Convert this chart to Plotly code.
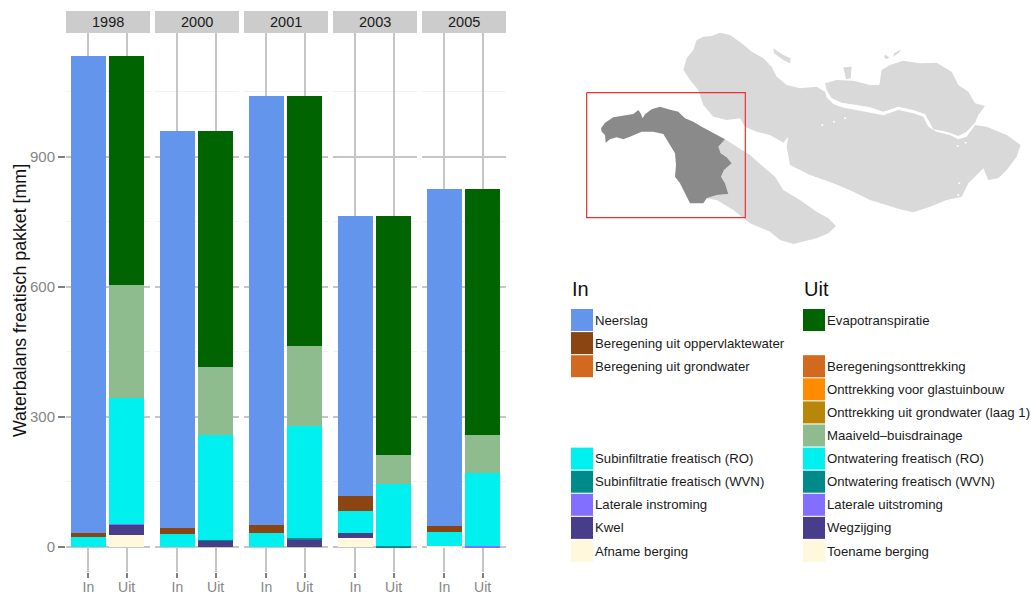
import plotly.graph_objects as go

W, H = 1031, 592

years = ["1998", "2000", "2001", "2003", "2005"]
directions = ["In", "Uit"]

# stack thickness per year [mm], bottom of stack first
afname_berging = [0, 0, 0, 21, 3]
kwel = [0, 0, 0, 11, 0]
subinf_ro = [23, 30, 32, 51, 32]
beregening_opp = [9, 14, 19, 35, 13]
neerslag = [1100, 915, 988, 645, 777]

toename_berging = [28, 0, 0, 0, 0]
wegzijging = [23, 15, 18, 0, 0]
laterale_uit = [2, 0, 0, 0, 1.5]
ontwatering_wvn = [0, 1.5, 3, 1.5, 0]
ontwatering_ro = [290, 241.5, 258, 143.5, 168.5]
maaiveld = [261, 157, 184, 67, 88]
evapotranspiratie = [528, 544, 576, 551, 567]

in_stack = [
    ("Afname berging", afname_berging, "#FFF8DC"),
    ("Kwel", kwel, "#483D8B"),
    ("Subinfiltratie freatisch (RO)", subinf_ro, "#00EFEF"),
    ("Beregening uit oppervlaktewater", beregening_opp, "#8B4513"),
    ("Neerslag", neerslag, "#6495ED"),
]
uit_stack = [
    ("Toename berging", toename_berging, "#FFF8DC"),
    ("Wegzijging", wegzijging, "#483D8B"),
    ("Laterale uitstroming", laterale_uit, "#836FFF"),
    ("Ontwatering freatisch (WVN)", ontwatering_wvn, "#008B8B"),
    ("Ontwatering freatisch (RO)", ontwatering_ro, "#00EFEF"),
    ("Maaiveld-buisdrainage", maaiveld, "#8FBC8F"),
    ("Evapotranspiratie", evapotranspiratie, "#006400"),
]

legend_in = [
    ("Neerslag", "#6495ED", 0), ("Beregening uit oppervlaktewater", "#8B4513", 1),
    ("Beregening uit grondwater", "#D2691E", 2), ("Subinfiltratie freatisch (RO)", "#00EFEF", 6),
    ("Subinfiltratie freatisch (WVN)", "#008B8B", 7), ("Laterale instroming", "#836FFF", 8),
    ("Kwel", "#483D8B", 9), ("Afname berging", "#FFF8DC", 10),
]
legend_uit = [
    ("Evapotranspiratie", "#006400", 0), ("Beregeningsonttrekking", "#D2691E", 2),
    ("Onttrekking voor glastuinbouw", "#FF8C00", 3), ("Onttrekking uit grondwater (laag 1)", "#B8860B", 4),
    ("Maaiveld\u2013buisdrainage", "#8FBC8F", 5), ("Ontwatering freatisch (RO)", "#00EFEF", 6),
    ("Ontwatering freatisch (WVN)", "#008B8B", 7), ("Laterale uitstroming", "#836FFF", 8),
    ("Wegzijging", "#483D8B", 9), ("Toename berging", "#FFF8DC", 10),
]

# map outlines in map units
island_main_x = [380,400,425,450,480,515,545,580,605,620,650,690,740,765,770,790,815,860,900,940,985,1030,1060,1075,1100,1140,1165,1190,1215,1250,1310,1352,1340,1310,1285,1255,1240,1220,1195,1175,1130,1080,1030,990,950,900,850,790,720,660,650,655,640,600,560,525,510,470,430,400,385,360,340,350,370]
island_main_y = [60,50,48,38,45,70,95,115,140,170,195,205,200,215,232,252,262,270,278,286,270,280,290,320,335,345,358,350,315,320,345,375,410,450,475,480,445,465,490,530,540,560,577,568,555,540,515,490,465,435,380,350,368,345,335,320,295,300,290,255,210,180,150,115,90]
island_north_x = [765,800,850,900,928,935,960,1000,1050,1100,1145,1165,1195,1215,1245,1225,1215,1190,1165,1130,1090,1080,1065,1030,985,940,900,860,815,785,770]
island_north_y = [190,180,182,195,195,150,135,122,130,128,155,195,215,250,258,285,308,335,348,335,328,310,282,270,260,275,262,255,248,235,210]
island_south_x = [465,500,540,580,615,640,690,740,775,798,775,740,670,630,600,540,490,440,410,440,475,465,453,462,485,470,452,445]
island_south_y = [358,380,405,440,470,510,540,575,595,618,640,655,672,660,635,610,570,540,535,525,522,490,470,450,430,412,400,380]
islet_a_x = [610,640,662,660,640,612]
islet_a_y = [85,105,115,130,120,100]
islet_b_x = [820,845,842,828]
islet_b_y = [142,140,175,178]
islet_c_x = [945,958,950,942]
islet_c_y = [104,112,118,112]
islet_d_x = [972,995,985,970]
islet_d_y = [100,88,100,110]
region_x = [93,105,130,165,190,205,212,218,225,245,270,295,325,345,370,395,425,465,445,452,470,485,462,453,465,475,440,410,400,360,345,330,315,318,315,295,280,250,215,180,160,140,120,107,105,95]
region_y = [325,308,292,285,282,270,280,295,283,268,260,268,275,295,305,320,337,358,380,400,412,430,450,470,490,522,525,535,550,550,520,490,470,435,400,365,342,335,335,350,358,352,358,368,345,335]
frame_x = [50,526,526,50,50]
frame_y = [218,218,593,593,218]
hole_x = [757,792,825,1163,1187,1168,1165,1185]
hole_y = [315,305,295,378,368,490,525,520]

LIGHT = "#D9D9D9"
FONT = "Liberation Sans"
fig = go.Figure()
px_x = lambda p: p / W
px_y = lambda p: 1 - p / H

panels = [(66 + 89 * i, 150 + 89 * i) for i in range(5)]
PANEL_TOP, PANEL_BOTTOM = 33, 572
layout = {}
shapes = []
annotations = []

def note(text, x, y, size, color="#1A1A1A", xanchor="center", angle=0):
    annotations.append(dict(text=text, xref="paper", yref="paper", x=px_x(x), y=px_y(y), xanchor=xanchor,
                            yanchor="middle", textangle=angle, showarrow=False,
                            font=dict(family=FONT, size=size, color=color)))

for i, year in enumerate(years):
    n = "" if i == 0 else str(i + 1)
    ref_x, ref_y = "x" + n, "y" + n
    for stack, direction in ((in_stack, "In"), (uit_stack, "Uit")):
        for name, values, color in stack:
            if values[i] > 0:
                fig.add_trace(go.Bar(x=[direction], y=[values[i]], name=name, width=0.92,
                                     marker=dict(color=color, line=dict(width=0)),
                                     xaxis=ref_x, yaxis=ref_y, showlegend=False))
    layout["xaxis" + n] = dict(
        domain=[px_x(panels[i][0]), px_x(panels[i][1])], anchor=ref_y, type="category", automargin=False,
        categoryorder="array", categoryarray=directions, range=[-0.587, 1.613],
        showgrid=True, gridcolor="#C6C6C6", gridwidth=2, showline=False, zeroline=False,
        ticks="outside", ticklen=5, tickwidth=2, tickcolor="#7F7F7F", ticklabelstandoff=-3,
        tickfont=dict(family=FONT, size=14, color="#858585"))
    layout["yaxis" + n] = dict(
        domain=[px_y(PANEL_BOTTOM), px_y(PANEL_TOP)], anchor=ref_x, range=[-57.6, 1185], automargin=False,
        tickmode="array", tickvals=[0, 300, 600, 900], ticktext=["0", "300", "600", "900"],
        showgrid=True, gridcolor="#C6C6C6", gridwidth=2,
        showline=False, zeroline=False,
        minor=dict(tickvals=[150, 450, 750, 1050], showgrid=True, gridcolor="#F2F2F2", gridwidth=1, ticks=""),
        showticklabels=i == 0, ticks="outside" if i == 0 else "", ticklen=7, tickwidth=1.5,
        tickcolor="#7F7F7F", tickfont=dict(family=FONT, size=15, color="#858585"))
    shapes.append(dict(type="rect", xref="paper", yref="paper", x0=px_x(panels[i][0]), x1=px_x(panels[i][1]),
                       y0=px_y(33), y1=px_y(11), fillcolor="#CCCCCC", line=dict(width=0)))
    note(year, sum(panels[i]) / 2, 22, 14.5)

# map
map_kw = dict(xaxis="x6", yaxis="y6", showlegend=False, hoverinfo="skip")
for xs, ys in ((island_main_x, island_main_y), (island_north_x, island_north_y), (island_south_x, island_south_y),
               (islet_a_x, islet_a_y), (islet_b_x, islet_b_y), (islet_c_x, islet_c_y), (islet_d_x, islet_d_y)):
    fig.add_trace(go.Scatter(x=xs + xs[:1], y=ys + ys[:1], mode="lines", fill="toself", fillcolor=LIGHT,
                             line=dict(width=0), **map_kw))
fig.add_trace(go.Scatter(x=region_x + region_x[:1], y=region_y + region_y[:1], mode="lines", fill="toself",
                         fillcolor="#8A8A8A", line=dict(width=0), **map_kw))
fig.add_trace(go.Scatter(x=hole_x, y=hole_y, mode="markers", marker=dict(size=2, color="white"), **map_kw))
fig.add_trace(go.Scatter(x=frame_x, y=frame_y, mode="lines", line=dict(color="#F03030", width=1.2), **map_kw))
layout["xaxis6"] = dict(domain=[px_x(570), px_x(1031)], anchor="y6", range=[0, 1383], visible=False, automargin=False)
layout["yaxis6"] = dict(domain=[px_y(255), px_y(20)], anchor="x6", range=[705, 0], visible=False, automargin=False)

# legend
for title, items, x_box in (("In", legend_in, 571), ("Uit", legend_uit, 803)):
    note(title, x_box - 1, 289, 20, "#111111", "left")
    for label, color, row in items:
        cy = 320 + row * 23.1
        shapes.append(dict(type="rect", xref="paper", yref="paper", x0=px_x(x_box), x1=px_x(x_box + 22),
                           y0=px_y(cy + 11), y1=px_y(cy - 11), fillcolor=color, line=dict(width=0)))
        note(label, x_box + 22, cy, 13.2, "#1A1A1A", "left")

note("Waterbalans freatisch pakket [mm]", 20, 301, 17.8, "#111111", "center", -90)

fig.update_layout(template="none", width=W, height=H, margin=dict(l=0, r=0, t=0, b=0), paper_bgcolor="white",
                  plot_bgcolor="white", barmode="stack", shapes=shapes, annotations=annotations,
                  showlegend=False, **layout)
fig.write_html("out.html", config={"displayModeBar": False},
               post_script="document.body.style.margin='0';document.body.style.overflow='hidden';")
